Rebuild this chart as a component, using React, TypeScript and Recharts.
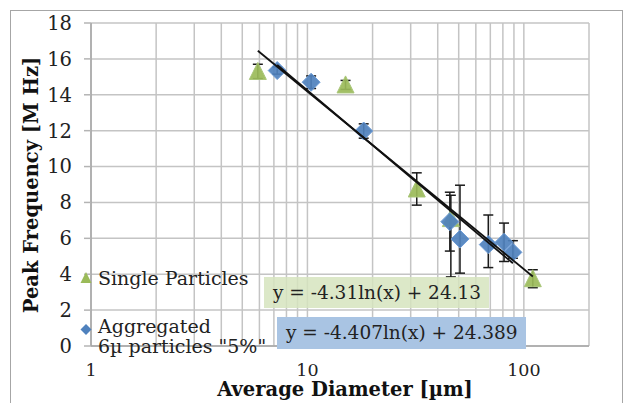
import { ScatterChart, Scatter, XAxis, YAxis, CartesianGrid, ErrorBar, Legend } from "recharts";

const FONT = '"DejaVu Serif", serif';

// axis ticks
const xTicks = [1, 2, 3, 4, 5, 6, 7, 8, 9, 10, 20, 30, 40, 50, 60, 70, 80, 90, 100, 200];
const xLabels = [1, 10, 100];
const yTicks = [0, 2, 4, 6, 8, 10, 12, 14, 16, 18];

// Single Particles
const singleX = [5.9, 15, 32, 46, 110];
const singleY = [15.3, 14.55, 8.75, 7.1, 3.75];
const singleErr = [[0.4, 0.4], [0.25, 0.25], [0.9, 0.9], [3.25, 1.3], [0.5, 0.5]];

// Aggregated 6µ particles "5%"
const aggX = [7.25, 10.4, 18.2, 45.5, 50.7, 68.5, 81, 89];
const aggY = [15.35, 14.7, 11.98, 6.93, 5.96, 5.65, 5.78, 5.22];
const aggErr = [[0.2, 0.2], [0.35, 0.35], [0.4, 0.4], [1.64, 1.64], [1.9, 3.0], [1.28, 1.65], [1.07, 1.07], [0.33, 0.65]];

// log trendlines (end points)
const singleFitX = [5.9, 110];
const singleFitY = [16.45, 3.87];
const aggFitX = [7.25, 89];
const aggFitY = [15.66, 4.61];

const singleEq = "y = -4.31ln(x) + 24.13";
const aggEq = "y = -4.407ln(x) + 24.389";

const singleName = "Single Particles";
const aggName = 'Aggregated\n6µ particles "5%"';

const toRows = (xs: number[], ys: number[], errs?: number[][]) =>
  xs.map((x, i) => ({ x, y: ys[i], err: errs ? errs[i] : undefined }));

const singleData = toRows(singleX, singleY, singleErr);
const aggData = toRows(aggX, aggY, aggErr);
const singleFit = toRows(singleFitX, singleFitY);
const aggFit = toRows(aggFitX, aggFitY);

const Triangle = (props: any) => {
  const { cx, cy } = props;
  return (
    <polygon
      points={`${cx},${cy - 9} ${cx - 8.5},${cy + 8} ${cx + 8.5},${cy + 8}`}
      fill="#9bbb59"
      fillOpacity={0.92}
      stroke="#a9c679"
      strokeWidth={1}
    />
  );
};

const Diamond = (props: any) => {
  const { cx, cy } = props;
  return (
    <polygon
      points={`${cx},${cy - 9} ${cx + 9},${cy} ${cx},${cy + 9} ${cx - 9},${cy}`}
      fill="#4f81bd"
      fillOpacity={0.92}
      stroke="#6d9cd6"
      strokeWidth={1}
    />
  );
};

const renderLegend = (props: any) => {
  const payload = props.payload || [];
  const single = payload.find((p: any) => p.value === singleName);
  const agg = payload.find((p: any) => p.value === aggName);
  return (
    <div style={{ fontFamily: FONT, fontSize: 19, color: "#222" }}>
      {single && (
        <div style={{ display: "flex", alignItems: "flex-start" }}>
          <svg width={14} height={24} style={{ marginRight: 5, flex: "none" }}>
            <polygon points="7,6 1.5,17 12.5,17" fill="#9bbb59" />
          </svg>
          <div style={{ lineHeight: "24px" }}>{single.value}</div>
        </div>
      )}
      {agg && (
        <div style={{ display: "flex", alignItems: "flex-start", marginTop: 26 }}>
          <svg width={14} height={20} style={{ marginRight: 5, flex: "none" }}>
            <polygon points="7,8 12.5,13.5 7,19 1.5,13.5" fill="#4f81bd" />
          </svg>
          <div style={{ whiteSpace: "pre-line", lineHeight: "20px" }}>{agg.value}</div>
        </div>
      )}
    </div>
  );
};

export default function App() {
  return (
    <div
      style={{
        position: "absolute",
        left: 0,
        top: 0,
        width: 625,
        height: 403,
        overflow: "hidden",
        background: "#fff",
      }}
    >
      <div
        style={{
          position: "absolute",
          left: 10,
          top: 10,
          width: 611,
          height: 430,
          border: "1.5px solid #a6a6a6",
        }}
      />
      <div style={{ position: "absolute", left: 0, top: 0 }}>
        <ScatterChart
          width={625}
          height={403}
          margin={{ top: 23, right: 36, bottom: 27, left: 31 }}
          style={{ fontFamily: FONT }}
        >
          <CartesianGrid stroke="#c4c4c4" strokeWidth={1.5} />
          <XAxis
            type="number"
            dataKey="x"
            scale="log"
            domain={[1, 200]}
            allowDataOverflow
            ticks={xTicks}
            interval={0}
            tickFormatter={(v: number) => (xLabels.includes(v) ? String(v) : "")}
            tickLine={false}
            tickSize={0}
            tickMargin={18}
            height={30}
            axisLine={{ stroke: "#a6a6a6", strokeWidth: 1.5 }}
            tick={{ fill: "#222", fontSize: 17.5, fontFamily: FONT }}
            label={{
              content: () => (
                <text
                  x={345}
                  y={396}
                  textAnchor="middle"
                  fontFamily={FONT}
                  fontWeight="bold"
                  fontSize={19.5}
                  fill="#111"
                >
                  Average Diameter [µm]
                </text>
              ),
            }}
          />
          <YAxis
            type="number"
            dataKey="y"
            domain={[0, 18]}
            ticks={yTicks}
            interval={0}
            width={60}
            tickSize={7}
            tickMargin={12}
            tickLine={{ stroke: "#b4b4b4", strokeWidth: 1.5 }}
            axisLine={{ stroke: "#a6a6a6", strokeWidth: 1.5 }}
            tick={{ fill: "#222", fontSize: 19.5, fontFamily: FONT }}
            label={{
              content: () => (
                <text
                  x={31}
                  y={185}
                  transform="rotate(-90 31 185)"
                  textAnchor="middle"
                  dominantBaseline="central"
                  fontFamily={FONT}
                  fontWeight="bold"
                  fontSize={19.5}
                  fill="#111"
                >
                  Peak Frequency [M Hz]
                </text>
              ),
            }}
          />
          <Legend
            layout="vertical"
            align="center"
            verticalAlign="middle"
            content={renderLegend}
            wrapperStyle={{ left: 79, top: 266, width: 200, height: 90 }}
          />
          <Scatter name={singleName} data={singleData} shape={Triangle} isAnimationActive={false}>
            <ErrorBar dataKey="err" direction="y" width={5} stroke="#1a1a1a" strokeWidth={1.5} />
          </Scatter>
          <Scatter name={aggName} data={aggData} shape={Diamond} isAnimationActive={false}>
            <ErrorBar dataKey="err" direction="y" width={5} stroke="#1a1a1a" strokeWidth={1.5} />
          </Scatter>
          <Scatter
            name="fit1"
            data={singleFit}
            line={{ stroke: "#111", strokeWidth: 1.8 }}
            shape={() => <g />}
            legendType="none"
            isAnimationActive={false}
          />
          <Scatter
            name="fit2"
            data={aggFit}
            line={{ stroke: "#111", strokeWidth: 1.8 }}
            shape={() => <g />}
            legendType="none"
            isAnimationActive={false}
          />
        </ScatterChart>
      </div>
      <div
        style={{
          position: "absolute",
          left: 264,
          top: 277,
          width: 225,
          height: 31,
          background: "rgba(214,228,190,0.85)",
          fontFamily: FONT,
          fontSize: 18.5,
          color: "#222",
          lineHeight: "31px",
          paddingLeft: 9,
          boxSizing: "border-box",
          whiteSpace: "nowrap",
        }}
      >
        {singleEq}
      </div>
      <div
        style={{
          position: "absolute",
          left: 277,
          top: 317,
          width: 249,
          height: 32,
          background: "#a9c4e3",
          fontFamily: FONT,
          fontSize: 18.5,
          color: "#222",
          lineHeight: "32px",
          paddingLeft: 9,
          boxSizing: "border-box",
          whiteSpace: "nowrap",
        }}
      >
        {aggEq}
      </div>
    </div>
  );
}
